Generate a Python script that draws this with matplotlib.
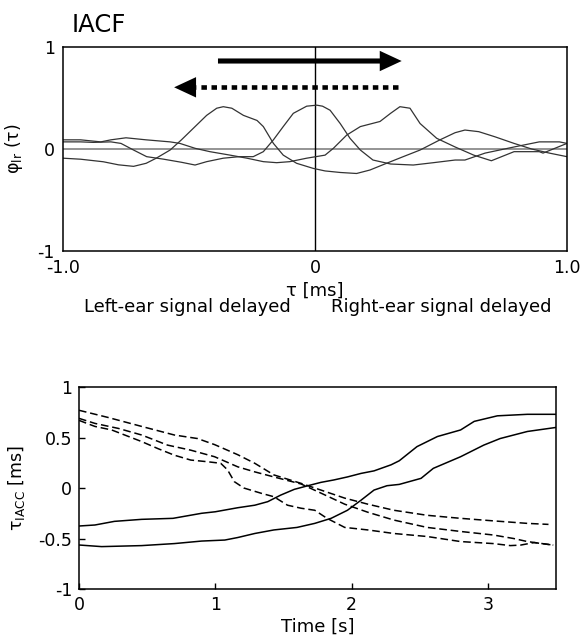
import matplotlib
matplotlib.use("Agg")
import matplotlib.pyplot as plt

plt.rcParams['font.family'] = ['DejaVu Sans']
plt.rcParams['mathtext.fontset'] = 'dejavusans'

# --- top panel: IACF curves, tau in ms ---
tau_a = [-1.0, -0.93, -0.84, -0.78, -0.72, -0.67, -0.63, -0.575, -0.53, -0.48, -0.43, -0.39,
         -0.364, -0.33, -0.284, -0.23, -0.205, -0.165, -0.126, -0.073, -0.007, 0.04, 0.1, 0.165,
         0.218, 0.284, 0.35, 0.417, 0.496, 0.556, 0.595, 0.65, 0.714, 0.79, 0.86, 0.93, 1.0]
iacf_a = [-0.09, -0.10, -0.125, -0.155, -0.17, -0.14, -0.09, -0.01, 0.09, 0.21, 0.33, 0.40,
          0.415, 0.40, 0.33, 0.28, 0.22, 0.055, -0.06, -0.14, -0.19, -0.215, -0.23, -0.24,
          -0.206, -0.14, -0.075, -0.01, 0.09, 0.16, 0.186, 0.17, 0.12, 0.055, 0.0, -0.04, -0.075]

tau_b = [-1.0, -0.93, -0.88, -0.81, -0.77, -0.72, -0.668, -0.6, -0.53, -0.476, -0.43, -0.364,
         -0.3, -0.245, -0.205, -0.165, -0.126, -0.086, -0.033, 0.007, 0.03, 0.06, 0.1, 0.139,
         0.18, 0.23, 0.3, 0.39, 0.47, 0.556, 0.595, 0.675, 0.79, 0.89, 0.97, 1.0]
iacf_b = [0.07, 0.07, 0.065, 0.07, 0.055, -0.01, -0.075, -0.1, -0.13, -0.157, -0.124, -0.09,
          -0.075, -0.075, -0.026, 0.09, 0.22, 0.35, 0.42, 0.43, 0.42, 0.38, 0.25, 0.105,
          -0.01, -0.108, -0.147, -0.157, -0.134, -0.108, -0.108, -0.04, 0.02, 0.07, 0.07, 0.055]

tau_c = [-1.0, -0.93, -0.85, -0.81, -0.75, -0.67, -0.575, -0.536, -0.476, -0.417, -0.337, -0.27,
         -0.205, -0.152, -0.1, -0.033, 0.04, 0.073, 0.126, 0.18, 0.258, 0.3, 0.337, 0.377,
         0.417, 0.483, 0.556, 0.63, 0.70, 0.79, 0.89, 0.905, 1.0]
iacf_c = [0.09, 0.09, 0.07, 0.09, 0.11, 0.09, 0.07, 0.055, 0.007, -0.026, -0.06, -0.09,
          -0.124, -0.134, -0.124, -0.09, -0.06, 0.007, 0.137, 0.22, 0.27, 0.35, 0.415, 0.40,
          0.25, 0.105, 0.02, -0.06, -0.115, -0.026, -0.026, -0.04, 0.055]

# arrows (start, end, height)
solid_arrow = (-0.385, 0.344, 0.863)
dotted_arrow = (0.329, -0.385, 0.605)

# --- bottom panel: tau_IACC over time ---
t_s1 = [0, 0.117, 0.26, 0.46, 0.69, 0.9, 1.0, 1.165, 1.29, 1.385, 1.48, 1.58, 1.68, 1.775,
        1.87, 1.97, 2.07, 2.165, 2.29, 2.35, 2.48, 2.63, 2.8, 2.9, 3.07, 3.29, 3.5]
v_s1 = [-0.376, -0.366, -0.33, -0.31, -0.30, -0.25, -0.235, -0.195, -0.17, -0.135, -0.07,
        -0.013, 0.023, 0.056, 0.08, 0.11, 0.145, 0.17, 0.23, 0.27, 0.41, 0.51, 0.575, 0.66,
        0.715, 0.73, 0.73]

t_s2 = [0, 0.166, 0.46, 0.70, 0.9, 1.07, 1.165, 1.29, 1.43, 1.6, 1.73, 1.85, 1.97, 2.07,
        2.165, 2.26, 2.35, 2.51, 2.6, 2.8, 2.97, 3.09, 3.29, 3.5]
v_s2 = [-0.564, -0.58, -0.57, -0.55, -0.525, -0.515, -0.49, -0.45, -0.415, -0.39, -0.35,
        -0.30, -0.22, -0.12, -0.02, 0.023, 0.036, 0.096, 0.195, 0.31, 0.425, 0.49, 0.56, 0.60]

t_d1 = [0, 0.21, 0.46, 0.70, 0.87, 0.995, 1.165, 1.29, 1.43, 1.63, 1.775, 1.95, 2.12, 2.31,
        2.555, 2.8, 3.04, 3.29, 3.445]
v_d1 = [0.77, 0.70, 0.61, 0.525, 0.49, 0.43, 0.33, 0.245, 0.13, 0.046, -0.02, -0.10, -0.16,
        -0.22, -0.27, -0.30, -0.325, -0.35, -0.36]

t_d2 = [0, 0.117, 0.29, 0.46, 0.65, 0.82, 0.995, 1.165, 1.29, 1.43, 1.63, 1.775, 1.95, 2.12,
        2.31, 2.555, 2.8, 3.04, 3.19, 3.29, 3.48]
v_d2 = [0.69, 0.64, 0.59, 0.525, 0.425, 0.375, 0.31, 0.21, 0.16, 0.11, 0.04, -0.05, -0.16,
        -0.24, -0.317, -0.39, -0.43, -0.465, -0.5, -0.53, -0.565]

t_d3 = [0, 0.117, 0.24, 0.46, 0.58, 0.70, 0.82, 0.946, 1.04, 1.09, 1.14, 1.21, 1.34, 1.43,
        1.53, 1.63, 1.73, 1.82, 1.95, 2.12, 2.31, 2.555, 2.8, 3.04, 3.165, 3.24, 3.34, 3.48]
v_d3 = [0.67, 0.61, 0.575, 0.46, 0.39, 0.325, 0.277, 0.26, 0.245, 0.18, 0.063, 0.0, -0.053,
        -0.086, -0.17, -0.2, -0.22, -0.3, -0.39, -0.415, -0.45, -0.48, -0.53, -0.55, -0.57,
        -0.565, -0.54, -0.565]

fig = plt.figure(figsize=(5.85, 6.39), dpi=100)

# top
ax1 = fig.add_axes([0.1077, 0.6072, 0.8615, 0.3192])
ax1.axhline(0, color='#777777', lw=1.1)
ax1.axvline(0, color='black', lw=1.0)
for x, y in [(tau_a, iacf_a), (tau_b, iacf_b), (tau_c, iacf_c)]:
    ax1.plot(x, y, color='#333333', lw=0.9)

x0, x1, y = solid_arrow
ax1.arrow(x0, y, x1 - x0, 0, width=0.05, head_width=0.2, head_length=0.087,
          length_includes_head=True, color='black', lw=0)
x0, x1, y = dotted_arrow
head = 0.087
ax1.plot([x0, x1 - head], [y, y], color='black', lw=3.3, linestyle=(0, (1.2, 1.0)),
         solid_capstyle='butt', dash_capstyle='butt')
ax1.arrow(x1 - head, y, -head, 0, width=0.0, head_width=0.2, head_length=head,
          length_includes_head=True, color='black', lw=0)

ax1.set_xlim(-1, 1)
ax1.set_ylim(-1, 1)
ax1.set_xticks([-1, 0, 1])
ax1.set_xticklabels(['-1.0', '0', '1.0'])
ax1.set_yticks([-1, 0, 1])
ax1.set_yticklabels(['-1', '0', '1'])
ax1.tick_params(length=0, labelsize=12.5, pad=6)
ax1.set_xlabel('τ [ms]', fontsize=13, labelpad=3)
ax1.set_ylabel(r'$\mathregular{φ_{lr}\ (τ)}$', fontsize=12.5)
ax1.yaxis.set_label_coords(-0.075, 0.5)
for s in ax1.spines.values():
    s.set_linewidth(1.1)

fig.text(72 / 585, 1 - 25 / 639, 'IACF', fontsize=17.5, va='center', ha='left')
fig.text(187 / 585, 1 - 312 / 639, 'Left-ear signal delayed', fontsize=13, ha='center', va='baseline')
fig.text(441 / 585, 1 - 312 / 639, 'Right-ear signal delayed', fontsize=13, ha='center', va='baseline')

# bottom
ax2 = fig.add_axes([0.135, 0.0782, 0.8154, 0.3161])
for x, y in [(t_s1, v_s1), (t_s2, v_s2)]:
    ax2.plot(x, y, color='black', lw=1.1)
for x, y in [(t_d1, v_d1), (t_d2, v_d2), (t_d3, v_d3)]:
    ax2.plot(x, y, color='black', lw=1.1, linestyle=(0, (5, 2.5)))
ax2.set_xlim(0, 3.5)
ax2.set_ylim(-1, 1)
ax2.set_xticks([0, 1, 2, 3])
ax2.set_yticks([-1, -0.5, 0, 0.5, 1])
ax2.set_yticklabels(['-1', '-0.5', '0', '0.5', '1'])
ax2.tick_params(direction='in', length=4, width=1, labelsize=12.5, pad=5)
ax2.set_xlabel('Time [s]', fontsize=13, labelpad=3)
ax2.set_ylabel(r'$\mathregular{τ_{IACC}}$ [ms]', fontsize=12.5)
ax2.yaxis.set_label_coords(-0.109, 0.5)
for s in ax2.spines.values():
    s.set_linewidth(1.1)

fig.savefig('out.png', dpi=100)
